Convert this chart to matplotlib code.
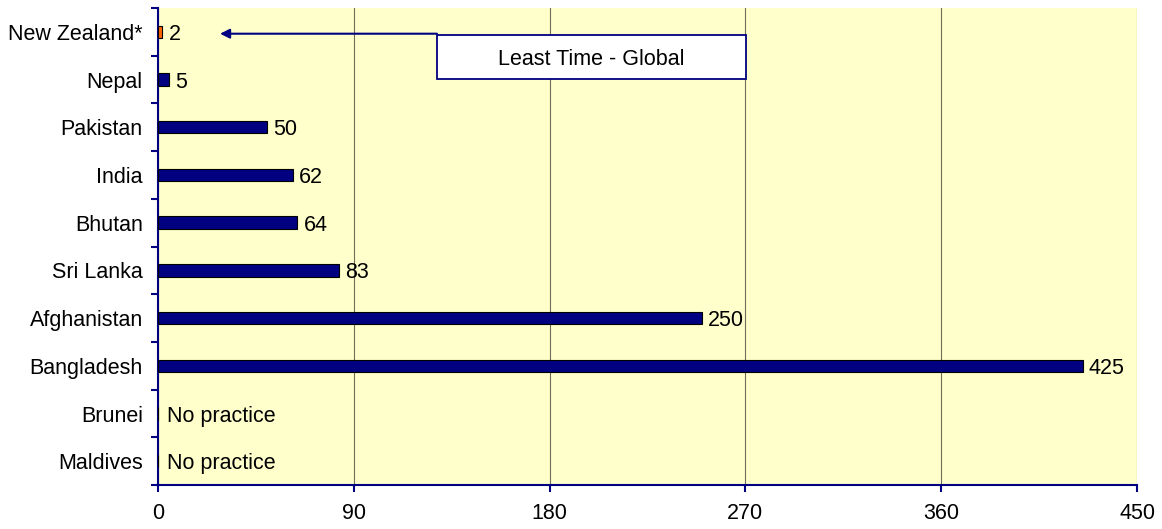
import matplotlib
matplotlib.use("Agg")
import matplotlib.pyplot as plt
import numpy as np
from matplotlib.patches import Rectangle

plt.rcParams['font.family'] = ['Liberation Sans', 'DejaVu Sans']

# data, top to bottom as in the picture
countries = ['New Zealand*', 'Nepal', 'Pakistan', 'India', 'Bhutan',
             'Sri Lanka', 'Afghanistan', 'Bangladesh', 'Brunei', 'Maldives']
days = [2, 5, 50, 62, 64, 83, 250, 425, None, None]
highlight = ['New Zealand*']
no_practice_label = 'No practice'
xticks = [0, 90, 180, 270, 360, 450]
callout_text = 'Least Time - Global'

navy = '#000080'
bg = '#FFFFCC'
fs = 15.5

fig = plt.figure(figsize=(11.62, 5.29), dpi=100)
ax = fig.add_axes([0.136, 0.083, 0.8425, 0.902])
ax.set_facecolor(bg)

y = np.arange(len(countries))
vals = [v if v is not None else 0 for v in days]
cols = ['#FF6600' if c in highlight else navy for c in countries]
ax.barh(y, vals, height=0.26, color=cols, edgecolor='black', linewidth=0.8, zorder=3)

for yi, v in zip(y, days):
    if v is None:
        ax.annotate(no_practice_label, xy=(0, yi), xytext=(6.5, 0), textcoords='offset points',
                    va='center_baseline', ha='left', fontsize=fs)
    else:
        ax.annotate(str(v), xy=(v, yi), xytext=(4.5, 0), textcoords='offset points',
                    va='center_baseline', ha='left', fontsize=fs)

ax.set_xlim(0, 450)
ax.set_ylim(len(countries) - 0.5, -0.5)
ax.set_xticks(xticks)
ax.set_xticklabels([str(t) for t in xticks], fontsize=fs)
ax.set_yticks(y)
ax.set_yticklabels(countries, fontsize=fs, va='center_baseline')
ax.set_yticks(np.arange(len(countries) + 1) - 0.5, minor=True)
ax.tick_params(axis='y', which='major', length=0, pad=11)
ax.tick_params(axis='y', which='minor', length=5, color=navy, width=1.5, direction='out')
ax.tick_params(axis='x', length=5, color=navy, width=1.5, direction='out', pad=8)

ax.grid(axis='x', color='#6E6E5A', linewidth=0.8, zorder=1)
ax.set_axisbelow(True)
for s in ['top', 'right']:
    ax.spines[s].set_visible(False)
for s in ['left', 'bottom']:
    ax.spines[s].set_color(navy)
    ax.spines[s].set_linewidth(1.5)

# callout box and arrow
nz = y[0]
box_x0, box_x1 = 128.2, 270.3
box_y0, box_y1 = nz + 0.06, nz + 0.99
ax.add_patch(Rectangle((box_x0, box_y0), box_x1 - box_x0, box_y1 - box_y0,
                       facecolor='white', edgecolor=navy, linewidth=1.3, zorder=4))
ax.text((box_x0 + box_x1) / 2, (box_y0 + box_y1) / 2, callout_text,
        ha='center', va='center_baseline', fontsize=fs, zorder=5)
ax.annotate('', xy=(28.5, box_y0 - 0.02), xytext=(box_x0, box_y0 - 0.02),
            arrowprops=dict(arrowstyle='-|>', color=navy, lw=1.5, mutation_scale=14,
                            shrinkA=0, shrinkB=0), zorder=5)

fig.savefig('out.png', dpi=100)
